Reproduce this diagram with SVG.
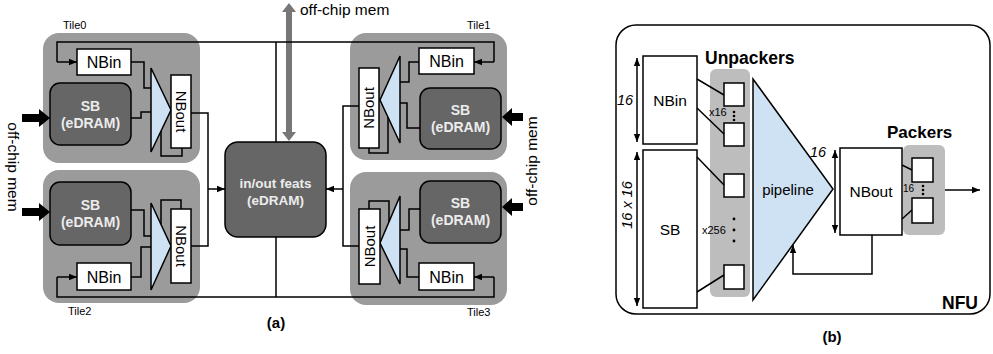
<svg xmlns="http://www.w3.org/2000/svg" width="993" height="354" viewBox="0 0 993 354">
<style>
text{font-family:"Liberation Sans",Arial,sans-serif;fill:#000}
.tile{fill:#9b9b9b;stroke:none}
.buf{fill:#fff;stroke:#000;stroke-width:1.5}
.sb{fill:#666;stroke:#000;stroke-width:1.5}
.tri{fill:#cfe2f3;stroke:#000;stroke-width:1.5;stroke-linejoin:miter}
.w{fill:none;stroke:#000;stroke-width:1.5}
.nb{font-size:16px;text-anchor:middle}
.nbo{font-size:15px;text-anchor:middle}
.sbt{font-size:14px;font-weight:bold;text-anchor:middle;fill:#ececec}
.tl{font-size:11px}
.om{font-size:15.5px;text-anchor:middle}
.cap{font-size:15px;font-weight:bold;text-anchor:middle}
.hd{font-size:17.5px;font-weight:bold}
.it{font-size:14.5px;font-style:italic;text-anchor:middle}
.sm{font-size:11px}
.big{fill:#000;stroke:none}
.gr{fill:#777;stroke:none}
.unp{fill:#bdbdbd;stroke:none}
.ub{fill:#fff;stroke:#000;stroke-width:1.5}
</style>
<defs>
<marker id="ah" viewBox="0 0 10 10" refX="10" refY="5" markerWidth="8" markerHeight="8" markerUnits="userSpaceOnUse" orient="auto-start-reverse"><path d="M0,1 L10,5 L0,9 z" fill="#000"/></marker>
</defs>

<!-- ===== (a) ===== -->
<g id="tile0">
<rect class="tile" x="43" y="33" width="157" height="130" rx="16"/>
<text class="tl" x="63" y="29">Tile0</text>
<rect class="buf" x="77" y="49" width="54" height="26"/>
<text class="nb" x="104" y="67.5">NBin</text>
<rect class="sb" x="50" y="83" width="81" height="62" rx="10"/>
<text class="sbt" x="90.5" y="111">SB</text>
<text class="sbt" x="90.5" y="128">(eDRAM)</text>
<path class="tri" d="M151,68 L171,110 L151,152 Z"/>
<rect class="buf" x="171" y="75" width="20" height="73"/>
<text class="nbo" transform="translate(181,111.5) rotate(90)" y="5.3">NBout</text>
</g>

<g id="tile2">
<rect class="tile" x="43" y="170" width="157" height="133" rx="16"/>
<text class="tl" x="68" y="315">Tile2</text>
<rect class="sb" x="50" y="182" width="81" height="63" rx="10"/>
<text class="sbt" x="90.5" y="210">SB</text>
<text class="sbt" x="90.5" y="227">(eDRAM)</text>
<rect class="buf" x="77" y="263" width="54" height="27"/>
<text class="nb" x="104" y="282.5">NBin</text>
<path class="tri" d="M151,203 L171,246 L151,290 Z"/>
<rect class="buf" x="171" y="209" width="20" height="74"/>
<text class="nbo" transform="translate(181,246) rotate(90)" y="5.3">NBout</text>
</g>

<g id="tile1">
<rect class="tile" x="350" y="33" width="157" height="127" rx="16"/>
<text class="tl" x="467" y="29">Tile1</text>
<rect class="buf" x="419" y="48" width="55" height="26"/>
<text class="nb" x="446.5" y="66.5">NBin</text>
<rect class="sb" x="420" y="88" width="81" height="61" rx="10"/>
<text class="sbt" x="460.5" y="115">SB</text>
<text class="sbt" x="460.5" y="132">(eDRAM)</text>
<path class="tri" d="M400,56 L380,100 L400,143 Z"/>
<rect class="buf" x="359" y="68" width="20" height="80"/>
<text class="nbo" transform="translate(369,108) rotate(-90)" y="5.3">NBout</text>
</g>

<g id="tile3">
<rect class="tile" x="350" y="172" width="157" height="133" rx="16"/>
<text class="tl" x="467" y="316">Tile3</text>
<rect class="sb" x="420" y="181" width="81" height="62" rx="10"/>
<text class="sbt" x="460.5" y="208">SB</text>
<text class="sbt" x="460.5" y="225">(eDRAM)</text>
<rect class="buf" x="419" y="263" width="55" height="27"/>
<text class="nb" x="446.5" y="282.5">NBin</text>
<path class="tri" d="M400,196 L380,243 L400,284 Z"/>
<rect class="buf" x="359" y="209" width="21" height="75"/>
<text class="nbo" transform="translate(369.5,246.5) rotate(-90)" y="5.3">NBout</text>
</g>

<g id="inout">
<rect class="sb" x="225" y="142" width="101" height="95" rx="13"/>
<text class="sbt" style="font-size:13.5px" x="275.5" y="188">in/out feats</text>
<text class="sbt" style="font-size:13.5px" x="275.5" y="205">(eDRAM)</text>
</g>

<g id="offchip">
<path class="gr" d="M289,3 L296,12 L292,12 L292,132 L296,132 L289,141 L282,132 L286,132 L286,12 L282,12 Z"/>
<text class="om" x="300" y="15" style="text-anchor:start">off-chip mem</text>
<path class="big" d="M22,114 L39,114 L39,109 L50,118 L39,127 L39,122 L22,122 Z"/>
<path class="big" d="M22,208 L39,208 L39,203 L50,212 L39,221 L39,216 L22,216 Z"/>
<text class="om" transform="translate(13,167) rotate(90)" y="5">off-chip mem</text>
<path class="big" d="M523,113 L512,113 L512,108 L502,117 L512,126 L512,121 L523,121 Z"/>
<path class="big" d="M523,203 L512,203 L512,198 L502,207 L512,216 L512,211 L523,211 Z"/>
<text class="om" transform="translate(532,161) rotate(-90)" y="5">off-chip mem</text>
</g>

<g id="connectors-a">
<!-- buses -->
<path class="w" d="M57,62 L57,42 L494,42 L494,62"/>
<path class="w" d="M57,277 L57,297 L494,297 L494,277"/>
<path class="w" d="M276,42 L276,142"/>
<path class="w" d="M276,237 L276,297"/>
<line class="w" x1="57" y1="62" x2="77" y2="62" marker-end="url(#ah)"/>
<line class="w" x1="57" y1="277" x2="77" y2="277" marker-end="url(#ah)"/>
<line class="w" x1="494" y1="62" x2="474" y2="62" marker-end="url(#ah)"/>
<line class="w" x1="494" y1="277" x2="474" y2="277" marker-end="url(#ah)"/>
<!-- tile0 -->
<path class="w" d="M131,62 L144,62 L144,88 L151,88"/>
<path class="w" d="M131,118 L141,118 L141,112 L151,112"/>
<path class="w" d="M182,148 L182,156 L161,156 L161,131"/>
<path class="w" d="M191,113 L208,113 L208,246 L191,246"/>
<line class="w" x1="208" y1="189" x2="225" y2="189" marker-end="url(#ah)"/>
<!-- tile2 -->
<path class="w" d="M131,210 L144,210 L144,236 L151,236"/>
<path class="w" d="M131,277 L141,277 L141,247 L151,247"/>
<path class="w" d="M181,209 L181,200 L161,200 L161,224"/>
<!-- tile1 -->
<path class="w" d="M419,62 L409,62 L409,82 L400,82"/>
<path class="w" d="M420,128 L407,128 L407,103 L400,103"/>
<path class="w" d="M369,148 L369,153 L388,153 L388,117"/>
<path class="w" d="M359,106 L343,106 L343,246 L359,246"/>
<line class="w" x1="343" y1="189" x2="326" y2="189" marker-end="url(#ah)"/>
<!-- tile3 -->
<path class="w" d="M420,209 L409,209 L409,230 L400,230"/>
<path class="w" d="M419,277 L407,277 L407,249 L400,249"/>
<path class="w" d="M369,209 L369,201 L389,201 L389,222"/>
</g>
<text class="cap" x="276" y="328">(a)</text>

<!-- ===== (b) ===== -->
<g id="nfu">
<rect x="616" y="25" width="374" height="289" rx="20" fill="#fff" stroke="#000" stroke-width="1.5"/>
<text class="hd" x="942" y="309">NFU</text>
</g>
<g id="nbin-b">
<rect class="buf" x="643" y="56" width="54" height="88"/>
<text class="nb" style="font-size:15.5px" x="670" y="105.5">NBin</text>
</g>
<g id="sb-b">
<rect class="buf" x="643" y="150" width="54" height="158"/>
<text class="nb" style="font-size:15.5px" x="670" y="234.5">SB</text>
</g>
<g id="unpackers">
<text class="hd" x="705" y="64">Unpackers</text>
<rect class="unp" x="710" y="69" width="40" height="228" rx="6"/>
<rect class="ub" x="724" y="83" width="20" height="23"/>
<rect class="ub" x="724" y="123" width="20" height="23"/>
<rect class="ub" x="724" y="174" width="20" height="23"/>
<rect class="ub" x="724" y="265" width="20" height="24"/>
<text class="sm" x="709" y="116">x16</text>
<circle cx="734" cy="112" r="1.3"/><circle cx="734" cy="116" r="1.3"/><circle cx="734" cy="120" r="1.3"/>
<text class="sm" x="702" y="234">x256</text>
<circle cx="734" cy="219" r="1.4"/><circle cx="734" cy="230" r="1.4"/><circle cx="734" cy="241" r="1.4"/>
</g>
<g id="pipeline">
<path class="tri" d="M753,79 L833,189 L753,300 Z"/>
<text class="nb" style="font-size:15px" x="788" y="195">pipeline</text>
</g>
<g id="nbout-b">
<rect class="buf" x="840" y="148" width="62" height="87"/>
<text class="nb" style="font-size:15.5px" x="871" y="197">NBout</text>
</g>
<g id="packers">
<text class="hd" style="font-size:17px" x="887" y="138">Packers</text>
<rect class="unp" x="903" y="145" width="42" height="90" rx="6"/>
<rect class="ub" x="912" y="158" width="21" height="24"/>
<rect class="ub" x="912" y="198" width="21" height="25"/>
<text class="sm" style="font-size:10px" x="903" y="192">16</text>
<circle cx="923" cy="186" r="1.3"/><circle cx="923" cy="190" r="1.3"/><circle cx="923" cy="194" r="1.3"/>
</g>
<g id="dims">
<line class="w" x1="637" y1="58" x2="637" y2="142" marker-start="url(#ah)" marker-end="url(#ah)"/>
<text class="it" x="625" y="105">16</text>
<line class="w" x1="637" y1="152" x2="637" y2="306" marker-start="url(#ah)" marker-end="url(#ah)"/>
<text class="it" transform="translate(627,205) rotate(-90)" y="5">16 x 16</text>
<line class="w" x1="835" y1="150" x2="835" y2="233" marker-start="url(#ah)" marker-end="url(#ah)"/>
<text class="it" x="818" y="157">16</text>
</g>
<g id="connectors-b">
<line class="w" x1="697" y1="79" x2="724" y2="95"/>
<line class="w" x1="697" y1="108" x2="724" y2="134"/>
<line class="w" x1="697" y1="157" x2="724" y2="185"/>
<line class="w" x1="697" y1="292" x2="724" y2="275"/>
<line class="w" x1="902" y1="165" x2="912" y2="170"/>
<line class="w" x1="902" y1="219" x2="912" y2="210"/>
<line class="w" x1="945" y1="190" x2="980" y2="190" marker-end="url(#ah)"/>
<path class="w" d="M872,235 L872,274 L793,274 L793,245" marker-end="url(#ah)"/>
</g>
<text class="cap" x="832" y="342">(b)</text>
</svg>
